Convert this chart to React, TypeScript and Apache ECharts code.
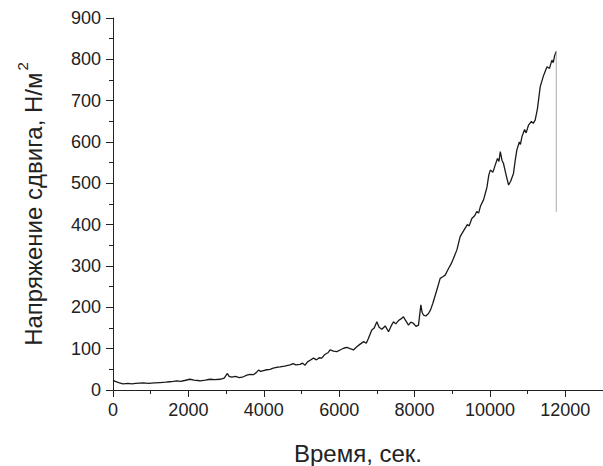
import React, { useEffect, useRef } from "react";
import * as echarts from "echarts";

const timeSec: number[] = [
  0, 60, 150, 265, 400, 500, 600, 800, 950, 1100, 1250, 1400, 1500, 1600, 1690, 1800, 1900, 2040, 2150, 2250,
  2310, 2450, 2575, 2700, 2840, 2950, 3035, 3080, 3150, 3250, 3350, 3460, 3550, 3637, 3725, 3800, 3860, 3920, 3990,
  4080, 4168, 4250, 4345, 4433, 4550, 4699, 4780, 4850, 4964, 5030, 5097, 5160, 5230, 5318, 5400, 5470, 5540, 5620,
  5700, 5760, 5850, 5938, 6050, 6120, 6203, 6290, 6380, 6460, 6557, 6650, 6720, 6778, 6866, 6930, 7000, 7060, 7133,
  7221, 7310, 7380, 7442, 7500, 7575, 7640, 7707, 7770, 7840, 7900, 7973, 8040, 8105, 8168, 8200, 8240, 8300, 8371,
  8430, 8486, 8592, 8680, 8750, 8813, 8902, 8970, 9035, 9124, 9210, 9300, 9400, 9450, 9520, 9600, 9650, 9700, 9750,
  9830, 9920, 9970, 10010, 10080, 10140, 10200, 10240, 10275, 10320, 10360, 10430, 10495, 10550, 10625, 10670, 10715,
  10780, 10810, 10850, 10920, 10960, 11025, 11100, 11150, 11200, 11260, 11335, 11420, 11470, 11515, 11580, 11645,
  11680, 11720, 11760,
];
const stress: number[] = [
  24, 21, 18, 15, 16, 15, 16, 17, 16, 17, 18, 19, 20, 21, 22, 21, 23, 26, 24, 23,
  22, 24, 26, 25, 26, 29, 40, 33, 31, 33, 30, 32, 36, 38, 37, 42, 48, 45, 47,
  49, 50, 53, 55, 56, 58, 61, 64, 61, 62, 65, 60, 68, 72, 77, 73, 78, 77, 86,
  90, 97, 94, 93, 98, 101, 103, 100, 97, 104, 111, 117, 113, 125, 145, 150, 165, 152, 147,
  155, 141, 155, 165, 160, 168, 172, 177, 167, 157, 164, 161, 154, 157, 206, 188, 181, 179, 185,
  195, 210, 242, 270, 274, 278, 294, 305, 319, 339, 371, 385, 400, 397, 415, 422, 432, 428, 445,
  460, 490, 520, 532, 527, 544, 560, 553, 577, 556, 548, 520, 496, 505, 524, 555, 581,
  600, 594, 613, 630, 622, 641, 650, 645, 653, 680, 734, 760, 772, 782, 778, 798,
  792, 810, 819,
];
const dropTime: number[] = [11760, 11760];
const dropStress: number[] = [819, 431];

const xTitle = "Время, сек.";
const yTitle = "Напряжение сдвига, Н/м";
const ySup = "2";

export default function App() {
  const ref = useRef<HTMLDivElement>(null);
  useEffect(() => {
    if (!ref.current) return;
    const chart = echarts.init(ref.current, undefined, { renderer: "svg" });
    const font = "Liberation Sans";
    const axisColor = "#222";
    chart.setOption({
      animation: false,
      backgroundColor: "#fff",
      grid: { left: 113, right: 0, top: 18, bottom: 76, containLabel: false, outerBoundsMode: "none" },
      xAxis: {
        type: "value",
        min: 0,
        max: 13000,
        interval: 2000,
        name: xTitle,
        nameLocation: "middle",
        nameGap: 51,
        nameTextStyle: { fontFamily: font, fontSize: 24, color: axisColor },
        axisLine: { lineStyle: { color: axisColor, width: 1 } },
        axisTick: { length: 7, lineStyle: { color: axisColor } },
        minorTick: { show: true, splitNumber: 2, length: 4, lineStyle: { color: axisColor } },
        axisLabel: {
          fontFamily: font,
          fontSize: 18,
          color: axisColor,
          margin: 11,
          showMaxLabel: false,
          formatter: (v: number) => String(v),
        },
        splitLine: { show: false },
      },
      yAxis: {
        type: "value",
        min: 0,
        max: 900,
        interval: 100,
        name: "{m|" + yTitle + "}{s|" + ySup + "}",
        nameLocation: "middle",
        nameGap: 62,
        nameTextStyle: {
          fontFamily: font,
          color: axisColor,
          rich: {
            m: { fontFamily: font, fontSize: 24, color: axisColor, lineHeight: 36 },
            s: { fontFamily: font, fontSize: 15, color: axisColor, lineHeight: 15, verticalAlign: "top", padding: [0, 0, 0, 2] },
          },
        },
        axisLine: { show: true, lineStyle: { color: axisColor, width: 1 } },
        axisTick: { show: true, length: 7, lineStyle: { color: axisColor } },
        minorTick: { show: true, splitNumber: 2, length: 4, lineStyle: { color: axisColor } },
        axisLabel: { fontFamily: font, fontSize: 18, color: axisColor, margin: 12, formatter: (v: number) => String(v) },
        splitLine: { show: false },
      },
      series: [
        {
          type: "line",
          data: timeSec.map((t, i) => [t, stress[i]]),
          showSymbol: false,
          lineStyle: { color: "#1a1a1a", width: 1.3 },
        },
        {
          type: "line",
          data: dropTime.map((t, i) => [t, dropStress[i]]),
          showSymbol: false,
          lineStyle: { color: "#aaaaaa", width: 1 },
        },
      ],
    });
    return () => chart.dispose();
  }, []);
  return (
    <div
      ref={ref}
      style={{ position: "fixed", left: 0, top: 0, width: 603, height: 466, background: "#fff" }}
    />
  );
}
